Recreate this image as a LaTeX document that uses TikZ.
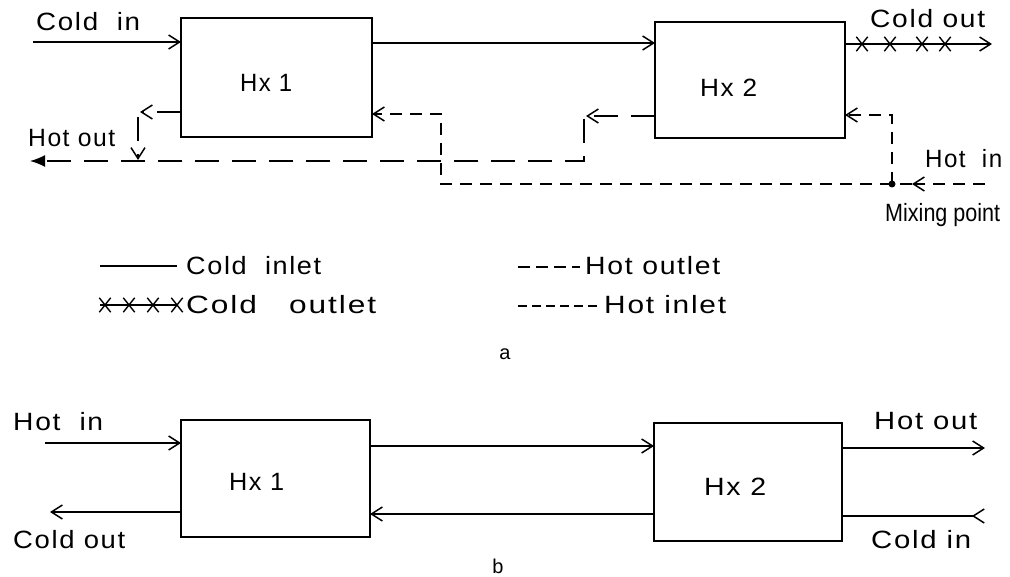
\documentclass[tikz,border=0pt]{standalone}
\usepackage{fontspec}
\usepackage{graphicx}
\setmainfont{Liberation Sans}
\newfontfamily\lblfam[LetterSpace=6]{Liberation Sans}
\newfontfamily\lblfamtight{Liberation Sans}
\newcommand\lblfont{\fontsize{25}{29}\selectfont\lblfam}
\newcommand\capfont{\fontsize{20}{24}\selectfont}
\newcommand\wtxt[2]{\resizebox{#1pt}{\height}{#2}}
\usetikzlibrary{arrows.meta,shapes.misc}
\begin{document}
\begin{tikzpicture}[x=1pt,y=-1pt,
  box/.style={draw,line width=1.8pt,inner sep=0,outer sep=0},
  lbl/.style={font=\lblfont,inner sep=0,anchor=base west},
  captxt/.style={font=\capfont,inner sep=0,anchor=base},
  barbtip/.tip={Straight Barb[length=11pt,width=14pt,line width=1.5pt]},
  line/.style={line width=1.5pt},
  flow/.style={line, -barbtip},
  hotout/.style={line, dash pattern=on 24pt off 13pt},
  hotin/.style={line, dash pattern=on 12pt off 8pt},
  xm/.style={draw,cross out,line width=1.4pt,minimum width=10pt,minimum height=13pt,inner sep=0},
  dot/.style={circle,fill,inner sep=0,minimum size=7pt}]
\useasboundingbox (0,0) rectangle (1010,577);

% ---------- (a) ----------
\node[box,minimum width=191pt,minimum height=119pt] (hx1a) at (276.5,77.5) {};
\node[box,minimum width=190pt,minimum height=116pt] (hx2a) at (750,80) {};
\node[lbl] (hx1at) at (240,92) {\wtxt{52}{Hx 1}};
\node[lbl] (hx2at) at (700,97) {\wtxt{57}{Hx 2}};

\node[lbl] (tcin) at (36,31) {\wtxt{104}{Cold\ \ in}};
\node[lbl] (tcout) at (870,28) {\wtxt{115}{Cold out}};
\node[lbl] (thout) at (28,147) {\wtxt{87}{Hot out}};
\node[lbl] (thin) at (925,168) {\wtxt{77}{Hot\ \ in}};
\node[lbl] (tmix) at (885,222) {\wtxt{115}{\lblfamtight Mixing point}};

% cold side
\coordinate (cin) at (33,42);
\draw[flow] (cin) -- (cin -| hx1a.west);
\coordinate (m1) at (0,43);
\draw[flow] (hx1a.east |- m1) -- (hx2a.west |- m1);
\coordinate (cout) at (992,44);
\draw[flow] (hx2a.east |- cout) -- (cout);
\foreach \x [count=\i] in {862,890,922,945} \node[xm] (xa\i) at (\x,44) {};

% hot outlet
\coordinate (o1) at (140,112);
\draw[hotout,-barbtip] (hx1a.west |- o1) -- (o1);
\coordinate (o1v) at (138,117);
\coordinate (o1d) at (138,160);
\draw[hotout,-barbtip] (o1v) -- (o1d);
\coordinate (o2) at (586,116);
\draw[hotout,-barbtip] (hx2a.west |- o2) -- (o2);
\coordinate (o2v) at (584,119);
\coordinate (hout) at (30,161);
\draw[hotout,-{Latex[length=15pt,width=12pt]}] (o2v) |- (hout);

% hot inlet
\node[dot] (mp) at (892,184) {};
\coordinate (hin) at (985,184);
\coordinate (hina) at (912,184);
\draw[hotin,-barbtip] (hin) -- (hina);
\draw[hotin] (hina) -- (mp.center);
\coordinate (r2) at (892,115);
\draw[hotin,-barbtip] (mp.center) -- (r2) -- (hx2a.east |- r2);
\coordinate (r1) at (441,114);
\draw[hotin,-barbtip] (mp.center) -| (r1) -- (hx1a.east |- r1);

% legend
\draw[line] (100,266) -- (177,266);
\node[lbl] (lg1) at (186,275) {\wtxt{135}{Cold\ \ inlet}};
\draw[line] (100,305) -- (178,305);
\foreach \x [count=\i] in {105,129,153,177} \node[xm] (xl\i) at (\x,305) {};
\node[lbl] (lg2) at (186,314) {\wtxt{190}{Cold\ \ \ outlet}};
\draw[line,dash pattern=on 12pt off 6pt] (518,267) -- (580,267);
\node[lbl] (lg3) at (585,275) {\wtxt{135}{Hot outlet}};
\draw[line,dash pattern=on 9pt off 5pt] (518,306) -- (597,306);
\node[lbl] (lg4) at (604,314) {\wtxt{122}{Hot inlet}};
\node[captxt] (capa) at (505,360) {a};

% ---------- (b) ----------
\node[box,minimum width=189pt,minimum height=117pt] (hx1b) at (275.5,478.5) {};
\node[box,minimum width=188pt,minimum height=118pt] (hx2b) at (748,482) {};
\node[lbl] (hx1bt) at (229,490) {\wtxt{55}{Hx 1}};
\node[lbl] (hx2bt) at (704,495) {\wtxt{62}{Hx 2}};

\node[lbl] (bthin) at (13,430) {\wtxt{90}{Hot\ \ in}};
\node[lbl] (btcout) at (13,548) {\wtxt{112}{Cold out}};
\node[lbl] (bthout) at (874,430) {\wtxt{103}{Hot out}};
\node[lbl] (btcin) at (871,548) {\wtxt{100}{Cold in}};
\node[captxt] (capb) at (498,573) {b};

\coordinate (bhin) at (45,443);
\draw[flow] (bhin) -- (bhin -| hx1b.west);
\coordinate (bco) at (50,512);
\draw[flow] (bco -| hx1b.west) -- (bco);
\coordinate (bm1) at (0,446);
\draw[flow] (hx1b.east |- bm1) -- (hx2b.west |- bm1);
\coordinate (bm2) at (0,514);
\draw[flow] (hx2b.west |- bm2) -- (hx1b.east |- bm2);
\coordinate (bho) at (985,448);
\draw[flow] (hx2b.east |- bho) -- (bho);
\coordinate (bci) at (985,516);
\draw[line,-{Straight Barb[reversed,length=11pt,width=14pt,line width=1.5pt]}] (hx2b.east |- bci) -- (bci);
\end{tikzpicture}
\end{document}
